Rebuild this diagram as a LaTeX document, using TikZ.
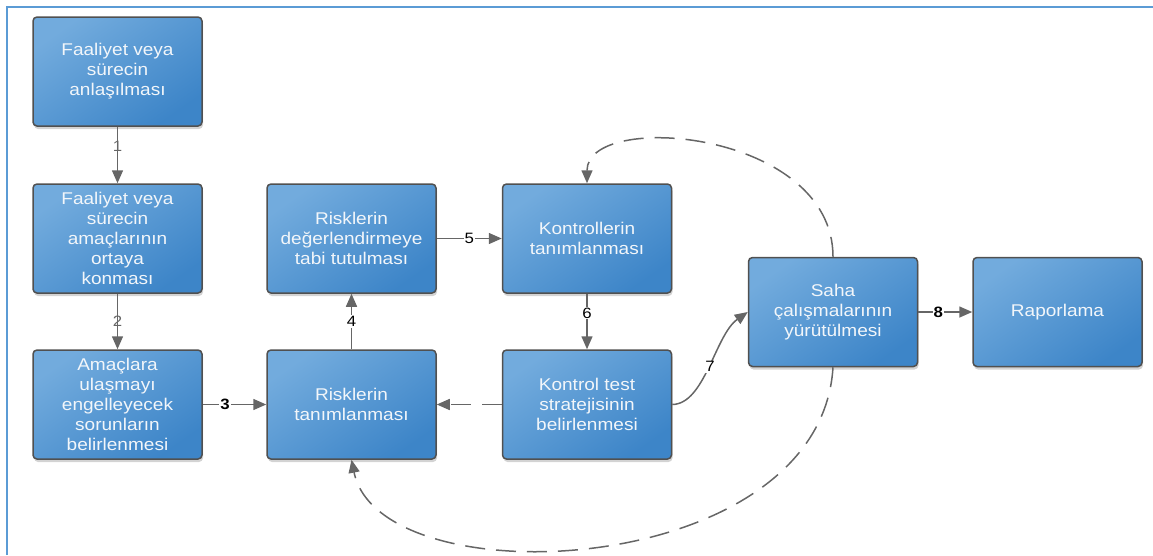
\documentclass[tikz,border=0pt]{standalone}
\usepackage{fontspec}
\setmainfont{Liberation Sans}[FakeStretch=1.12]
\usetikzlibrary{arrows.meta,shadows}
\definecolor{boxtop}{HTML}{72ABDD}
\definecolor{boxbot}{HTML}{3D85C8}
\definecolor{boxline}{HTML}{505050}
\definecolor{conncol}{HTML}{666666}
\definecolor{framecol}{HTML}{5B9BD5}
\definecolor{txt}{HTML}{F2F6FA}
\tikzset{
  box/.style={draw=boxline, line width=1.5pt, rounded corners=4pt,
    minimum width=169pt, minimum height=109pt, inner sep=2pt, align=center,
    text=txt, font=\fontsize{17}{20}\selectfont,
    top color=boxtop, bottom color=boxbot, shading angle=35,
    drop shadow={opacity=0.35, shadow xshift=1pt, shadow yshift=-3pt}},
  conn/.style={draw=conncol, line width=1.5pt,
    -{Triangle[length=13pt,width=11pt]}},
  dsh/.style={dash pattern=on 20pt off 11pt},
  lbl/.style={fill=white, inner sep=1pt, text=black, font=\fontsize{15}{15}\selectfont},
  glbl/.style={inner sep=1pt, text=conncol, font=\fontsize{15}{15}\selectfont},
}
\begin{document}
\begin{tikzpicture}[x=1pt,y=-1pt]
\useasboundingbox (0,0) rectangle (1153,555);
\draw[framecol, line width=2pt] (7,555) -- (7,7) -- (1153,7);

\node[box] (A) at (117.5,71.5) {Faaliyet veya\\sürecin\\anlaşılması};
\node[box] (B) at (117.5,238.5) {Faaliyet veya\\sürecin\\amaçlarının\\ortaya\\konması};
\node[box] (C) at (117.5,404.5) {Amaçlara\\ulaşmayı\\engelleyecek\\sorunların\\belirlenmesi};
\node[box] (D) at (351.5,238.5) {Risklerin\\değerlendirmeye\\tabi tutulması};
\node[box] (E) at (351.5,404.5) {Risklerin\\tanımlanması};
\node[box] (F) at (587,238.5) {Kontrollerin\\tanımlanması};
\node[box] (G) at (587,404.5) {Kontrol test\\stratejisinin\\belirlenmesi};
\node[box] (H) at (833,312) {Saha\\çalışmalarının\\yürütülmesi};
\node[box] (I) at (1057.5,312) {Raporlama};

\draw[conn] (A) -- node[glbl,pos=0.35]{1} (B);
\draw[conn] (B) -- node[glbl,pos=0.5]{2} (C);
\draw[conn] (C) -- node[lbl,pos=0.35]{\bfseries 3} (E);
\draw[conn] (E) -- node[lbl]{4} (D);
\draw[conn] (D) -- node[lbl]{5} (F);
\draw[conn] (F) -- node[lbl,pos=0.35]{6} (G);
\draw[conn] (G.east) .. controls (705,404) and (715,335) .. node[lbl,pos=0.5]{7} (H.west);
\draw[conn] (H) -- node[lbl,pos=0.37]{\bfseries 8} (I);
\draw[conn,dsh] (G.west) -- (E.east);
\draw[conn,dsh] (H.north) .. controls (833,130) and (587,110) .. (F.north);
\draw[conn,dsh] (H.south) .. controls (820,580) and (380,600) .. (E.south);
\end{tikzpicture}
\end{document}
